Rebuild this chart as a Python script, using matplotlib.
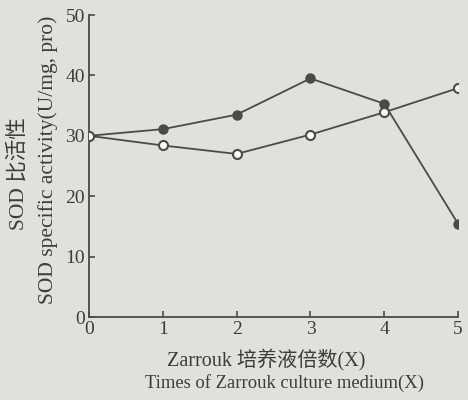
import matplotlib
matplotlib.use('Agg')
import matplotlib.pyplot as plt
import numpy as np

plt.rcParams['font.family'] = ['Liberation Serif', 'Noto Sans CJK SC']

# medium strength (X) and SOD specific activity
times = [0, 1, 2, 3, 4, 5]
sod_filled = [30.0, 31.1, 33.5, 39.5, 35.3, 15.4]
sod_open = [30.0, 28.4, 27.0, 30.2, 33.9, 37.9]

x_ticks = [0, 1, 2, 3, 4, 5]
y_ticks = [0, 10, 20, 30, 40, 50]

bg = '#e2e0db'
ink = '#4a4a4a'
txt = '#3c3c3c'

fig = plt.figure(figsize=(4.68, 4.0), dpi=100, facecolor=bg)
ax = fig.add_axes([0.190, 0.2075, 0.789, 0.755])
ax.set_facecolor(bg)

ax.plot(times, sod_filled, color=ink, linewidth=1.3, marker='o', ms=6.5,
        mfc=ink, mec=ink, zorder=3)
ax.plot(times, sod_open, color=ink, linewidth=1.3, marker='o', ms=6.5,
        mfc='white', mec=ink, mew=1.5, zorder=3)

ax.set_xlim(0, 5)
ax.set_ylim(0, 50)
ax.set_xticks(x_ticks)
ax.set_yticks(y_ticks)
for s in ['top', 'right']:
  ax.spines[s].set_visible(False)
for s in ['left', 'bottom']:
  ax.spines[s].set_color(ink)
  ax.spines[s].set_linewidth(1.3)
ax.tick_params(direction='in', length=4, width=1.2, color=ink,
               labelsize=14, labelcolor=txt, pad=3)
for lab in ax.get_xticklabels() + ax.get_yticklabels():
  lab.set_clip_on(False)

# axis titles (Chinese line + English line)
fig.text(0.040, 0.565, 'SOD 比活性', rotation=90, ha='center', va='center',
         fontsize=15.5, color=txt)
fig.text(0.103, 0.600, 'SOD specific activity(U/mg, pro)', rotation=90,
         ha='center', va='center', fontsize=15.5, color=txt)
fig.text(0.568, 0.100, 'Zarrouk 培养液倍数(X)', ha='center', va='center',
         fontsize=14.5, color=txt)
fig.text(0.607, 0.043, 'Times of Zarrouk culture medium(X)', ha='center',
         va='center', fontsize=13.4, color=txt)

plt.savefig('out.png', dpi=100, facecolor=bg)
